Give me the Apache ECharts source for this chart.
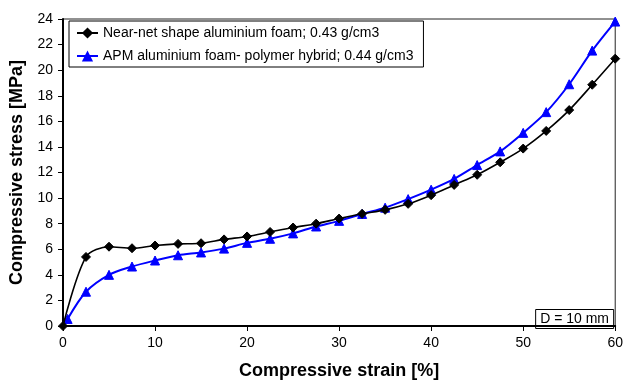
<!DOCTYPE html>
<html>
<head>
<meta charset="utf-8">
<script src="https://cdn.jsdelivr.net/npm/echarts@6/dist/echarts.min.js"></script>
<style>html,body{margin:0;padding:0;background:#fff}#c{width:626px;height:385px}</style>
</head>
<body>
<div id="c"></div>
<script>
var seriesNames = ['Near-net shape aluminium foam; 0.43 g/cm3', 'APM aluminium foam- polymer hybrid; 0.44 g/cm3'];
var strainBlack = [0, 2.5, 5, 7.5, 10, 12.5, 15, 17.5, 20, 22.5, 25, 27.5, 30, 32.5, 35, 37.5, 40, 42.5, 45, 47.5, 50, 52.5, 55, 57.5, 60];
var stressBlack = [0, 5.4, 6.2, 6.08, 6.29, 6.42, 6.47, 6.77, 7.0, 7.35, 7.7, 8.0, 8.4, 8.77, 9.08, 9.55, 10.23, 11.03, 11.82, 12.8, 13.87, 15.25, 16.88, 18.86, 20.9];
var strainBlue = [0.5, 2.5, 5, 7.5, 10, 12.5, 15, 17.5, 20, 22.5, 25, 27.5, 30, 32.5, 35, 37.5, 40, 42.5, 45, 47.5, 50, 52.5, 55, 57.5, 60];
var stressBlue = [0.55, 2.68, 4.0, 4.65, 5.12, 5.53, 5.75, 6.05, 6.5, 6.82, 7.24, 7.78, 8.22, 8.76, 9.25, 9.92, 10.66, 11.5, 12.58, 13.65, 15.1, 16.72, 18.9, 21.53, 23.8];
var xTicks = [0, 10, 20, 30, 40, 50, 60];
var yTicks = [0, 2, 4, 6, 8, 10, 12, 14, 16, 18, 20, 22, 24];

function pairs(xs, ys) { return xs.map(function (x, i) { return [x, ys[i]]; }); }

var chart = echarts.init(document.getElementById('c'), null, { renderer: 'canvas' });
var font = 'Liberation Sans, Arial, sans-serif';
chart.setOption({
  animation: false,
  backgroundColor: '#fff',
  textStyle: { fontFamily: font },
  grid: { left: 63, right: 8, top: 19, bottom: 53, show: true, borderColor: '#222', borderWidth: 1, containLabel: false },
  title: {
    text: 'D = 10 mm', right: 12, top: 309,
    borderColor: '#000', borderWidth: 1, padding: [3, 5],
    textStyle: { fontFamily: font, fontSize: 14, fontWeight: 'normal', color: '#000', lineHeight: 14 }
  },
  legend: {
    orient: 'vertical', left: 69, top: 21,
    backgroundColor: '#fff', borderColor: '#000', borderWidth: 1,
    padding: [5, 10, 4, 7], itemGap: 9, itemWidth: 21, itemHeight: 14,
    textStyle: { fontFamily: font, fontSize: 14, color: '#000', lineHeight: 14 },
    data: seriesNames
  },
  xAxis: {
    type: 'value', min: 0, max: 60, interval: 10,
    name: 'Compressive strain [%]', nameLocation: 'middle', nameGap: 36,
    nameTextStyle: { fontFamily: font, fontSize: 18, fontWeight: 'bold', color: '#000' },
    axisLine: { show: true, lineStyle: { color: '#000', width: 2 } },
    axisTick: { show: true, inside: false, length: 5, lineStyle: { color: '#000', width: 1 } },
    axisLabel: { fontFamily: font, fontSize: 14, color: '#000', margin: 10,
      formatter: function (v) { return xTicks.indexOf(v) >= 0 ? String(v) : ''; } },
    splitLine: { show: false }
  },
  yAxis: {
    type: 'value', min: 0, max: 24, interval: 2,
    name: 'Compressive stress [MPa]', nameLocation: 'middle', nameGap: 31,
    nameTextStyle: { fontFamily: font, fontSize: 18, fontWeight: 'bold', color: '#000' },
    axisLine: { show: true, lineStyle: { color: '#000', width: 2 } },
    axisTick: { show: true, inside: false, length: 5, lineStyle: { color: '#000', width: 1 } },
    axisLabel: { fontFamily: font, fontSize: 14, color: '#000', margin: 10,
      formatter: function (v) { return yTicks.indexOf(v) >= 0 ? String(v) : ''; } },
    splitLine: { show: false }
  },
  series: [
    {
      name: seriesNames[0], type: 'line', data: pairs(strainBlack, stressBlack),
      smooth: 0.3, symbol: 'diamond', symbolSize: 9,
      lineStyle: { color: '#000', width: 1.6 },
      itemStyle: { color: '#000', borderColor: '#000' },
      z: 3
    },
    {
      name: seriesNames[1], type: 'line', data: pairs(strainBlue, stressBlue),
      smooth: 0.3, symbol: 'triangle', symbolSize: 9,
      lineStyle: { color: '#0000ff', width: 2 },
      itemStyle: { color: '#0000ff', borderColor: '#0000ff' },
      z: 2
    }
  ]
});
</script>
</body>
</html>
